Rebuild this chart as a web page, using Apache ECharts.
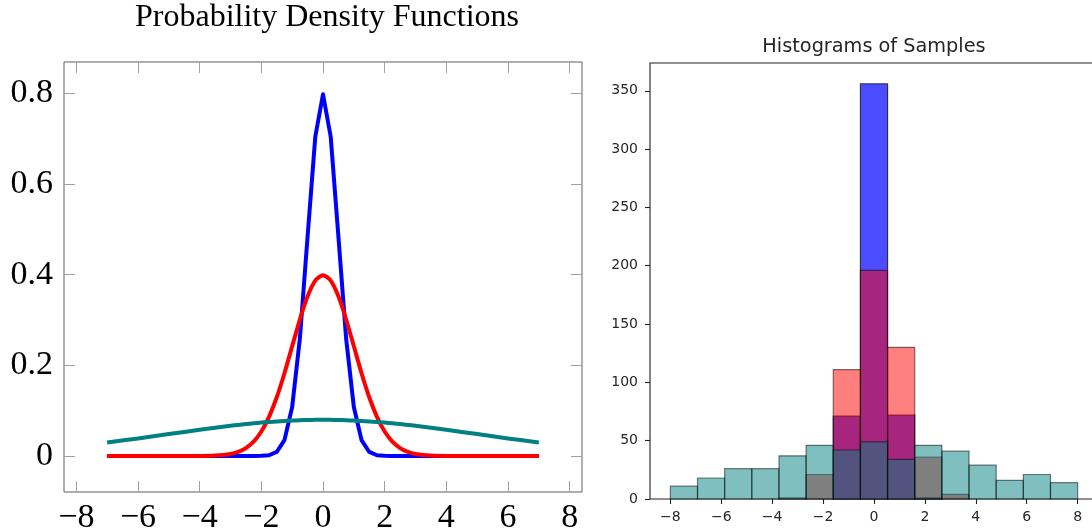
<!DOCTYPE html>
<html>
<head>
<meta charset="utf-8">
<script src="https://cdn.jsdelivr.net/npm/echarts@6/dist/echarts.min.js"></script>
<style>
  html, body { margin: 0; padding: 0; background: #fff; }
  #chart { width: 1092px; height: 529px; }
</style>
</head>
<body>
<div id="chart"></div>
<script>
// Density curves, sampled at these x positions
const curveX = [-7, -6, -5, -4, -3.5, -3, -2.75, -2.5, -2.25, -2, -1.75, -1.5, -1.25, -1, -0.75, -0.5, -0.25,
  0, 0.25, 0.5, 0.75, 1, 1.25, 1.5, 1.75, 2, 2.25, 2.5, 2.75, 3, 3.5, 4, 5, 6, 7];
const narrowPdf = [0, 0, 0, 0, 0, 0, 0, 0, 0, 0.0003, 0.0017, 0.0089, 0.0351, 0.1080, 0.2590, 0.4839, 0.7041,
  0.7979, 0.7041, 0.4839, 0.2590, 0.1080, 0.0351, 0.0089, 0.0017, 0.0003, 0, 0, 0, 0, 0, 0, 0, 0, 0];
const standardPdf = [0, 0, 0, 0.0001, 0.0009, 0.0044, 0.0091, 0.0175, 0.0317, 0.0540, 0.0863, 0.1295, 0.1826, 0.2420, 0.3011, 0.3521, 0.3867,
  0.3989, 0.3867, 0.3521, 0.3011, 0.2420, 0.1826, 0.1295, 0.0863, 0.0540, 0.0317, 0.0175, 0.0091, 0.0044, 0.0009, 0.0001, 0, 0, 0];
const widePdf = [0.0299, 0.0388, 0.0484, 0.0579, 0.0625, 0.0666, 0.0686, 0.0704, 0.0721, 0.0737, 0.0750, 0.0763, 0.0773, 0.0782, 0.0789, 0.0794, 0.0797,
  0.0798, 0.0797, 0.0794, 0.0789, 0.0782, 0.0773, 0.0763, 0.0750, 0.0737, 0.0721, 0.0704, 0.0686, 0.0666, 0.0625, 0.0579, 0.0484, 0.0388, 0.0299];

// Histogram bins shared by the three samples
const binEdges = [-8, -6.933, -5.867, -4.8, -3.733, -2.667, -1.6, -0.533, 0.533, 1.6, 2.667, 3.733, 4.8, 5.867, 6.933, 8];
const narrowCounts = [0, 0, 0, 0, 0, 0, 71, 356, 72, 1, 0, 0, 0, 0, 0];
const standardCounts = [0, 0, 0, 0, 1, 21, 111, 196, 130, 36, 4, 0, 0, 0, 0];
const wideCounts = [11, 18, 26, 26, 37, 46, 42, 49, 34, 46, 41, 29, 16, 21, 14];

// Tick values
const pdfXTicks = [-8, -6, -4, -2, 0, 2, 4, 6, 8];
const pdfYTicks = [0, 0.2, 0.4, 0.6, 0.8];
const histXTicks = [-8, -6, -4, -2, 0, 2, 4, 6, 8];
const histYTicks = [0, 50, 100, 150, 200, 250, 300, 350];

const minus = v => String(v).replace('-', '\u2212');
const serif = '"Liberation Serif", "Times New Roman", serif';
const sans = '"DejaVu Sans", sans-serif';

function curve(name, ys, color, smooth) {
  return {
    type: 'line', name, xAxisIndex: 0, yAxisIndex: 0,
    data: curveX.map((x, i) => [x, ys[i]]),
    showSymbol: false, symbol: 'none', smooth,
    lineStyle: { color, width: 4, join: 'round' },
    itemStyle: { color },
    silent: true
  };
}

function histogram(name, counts, color, opacity) {
  const data = [];
  counts.forEach((c, i) => { if (c > 0) data.push([binEdges[i], binEdges[i + 1], c]); });
  return {
    type: 'custom', name, xAxisIndex: 2, yAxisIndex: 2,
    data,
    encode: { x: [0, 1], y: 2 },
    silent: true,
    renderItem(params, api) {
      const topLeft = api.coord([api.value(0), api.value(2)]);
      const bottomRight = api.coord([api.value(1), 0]);
      return {
        type: 'rect',
        shape: { x: topLeft[0], y: topLeft[1], width: bottomRight[0] - topLeft[0], height: bottomRight[1] - topLeft[1] },
        style: { fill: color, stroke: '#000', lineWidth: 1.2, opacity }
      };
    }
  };
}

const hiddenLine = { show: false, onZero: false };
const innerTicks = (values) => ({ show: true, inside: true, length: 11, customValues: values, lineStyle: { color: '#a0a0a0', width: 1 } });

const option = {
  animation: false,
  backgroundColor: '#fff',
  grid: [
    { left: 64, top: 62, right: 510, bottom: 37, outerBoundsMode: 'none', containLabel: false,
      show: true, borderColor: '#606060', borderWidth: 1, backgroundColor: 'transparent' },
    { left: 650, top: 63, right: -6, bottom: 30, outerBoundsMode: 'none', containLabel: false,
      show: true, borderColor: '#222', borderWidth: 1.1, backgroundColor: 'transparent' }
  ],
  xAxis: [
    {
      type: 'value', gridIndex: 0, position: 'bottom', min: -8.4, max: 8.4,
      axisLine: hiddenLine, splitLine: { show: false },
      axisTick: innerTicks(pdfXTicks),
      axisLabel: { customValues: pdfXTicks, formatter: minus, fontFamily: serif, fontSize: 34, color: '#000', margin: 26, verticalAlign: 'middle' }
    },
    {
      type: 'value', gridIndex: 0, position: 'top', min: -8.4, max: 8.4,
      axisLine: hiddenLine, splitLine: { show: false },
      axisTick: innerTicks(pdfXTicks), axisLabel: { show: false }
    },
    {
      type: 'value', gridIndex: 1, position: 'bottom', min: -8.8, max: 8.8,
      axisLine: hiddenLine, splitLine: { show: false },
      axisTick: { show: true, inside: false, length: 5, customValues: histXTicks, lineStyle: { color: '#222', width: 1.1 } },
      axisLabel: { customValues: histXTicks, formatter: minus, fontFamily: sans, fontSize: 14, color: '#262626', margin: 18, verticalAlign: 'middle' }
    }
  ],
  yAxis: [
    {
      type: 'value', gridIndex: 0, position: 'left', min: -0.0794, max: 0.869,
      axisLine: hiddenLine, splitLine: { show: false },
      axisTick: innerTicks(pdfYTicks),
      axisLabel: { customValues: pdfYTicks, fontFamily: serif, fontSize: 34, color: '#000', margin: 11 }
    },
    {
      type: 'value', gridIndex: 0, position: 'right', min: -0.0794, max: 0.869,
      axisLine: hiddenLine, splitLine: { show: false },
      axisTick: innerTicks(pdfYTicks), axisLabel: { show: false }
    },
    {
      type: 'value', gridIndex: 1, position: 'left', min: 0, max: 373.8,
      axisLine: hiddenLine, splitLine: { show: false },
      axisTick: { show: true, inside: false, length: 5, customValues: histYTicks, lineStyle: { color: '#222', width: 1.1 } },
      axisLabel: { customValues: histYTicks, fontFamily: sans, fontSize: 14, color: '#262626', margin: 12 }
    }
  ],
  graphic: [
    {
      type: 'text', silent: true,
      style: { text: 'Probability Density Functions', x: 327, y: 17.5, align: 'center', verticalAlign: 'middle', font: '32px ' + serif, fill: '#000' }
    },
    {
      type: 'text', silent: true,
      style: { text: 'Histograms of Samples', x: 874, y: 46.5, align: 'center', verticalAlign: 'middle', font: '19.3px ' + sans, fill: '#262626' }
    }
  ],
  series: [
    curve('σ = 0.5', narrowPdf, '#0000ff', false),
    curve('σ = 1', standardPdf, '#ff0000', 0.25),
    curve('σ = 5', widePdf, '#008080', 0.25),
    histogram('σ = 0.5', narrowCounts, '#0000ff', 0.7),
    histogram('σ = 1', standardCounts, '#ff0000', 0.5),
    histogram('σ = 5', wideCounts, '#008080', 0.5)
  ]
};

const chart = echarts.init(document.getElementById('chart'), null, { renderer: 'canvas' });
chart.setOption(option);
</script>
</body>
</html>
